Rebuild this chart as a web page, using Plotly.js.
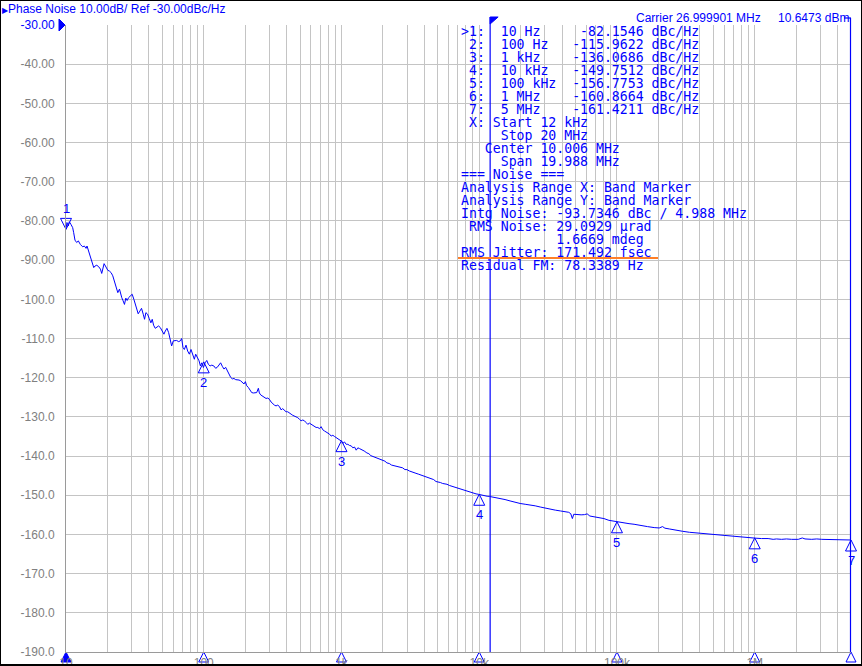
<!DOCTYPE html>
<html>
<head>
<meta charset="utf-8">
<script src="https://cdn.plot.ly/plotly-3.0.1.min.js"></script>
<style>
  html, body { margin: 0; padding: 0; background: #fff; }
  #wrap { position: relative; width: 862px; height: 666px; }
  #chart { width: 862px; height: 666px; }
  #frame { position: absolute; left: 0; top: 0; width: 862px; height: 666px; box-sizing: border-box; border: 1px solid #000; border-bottom-width: 2px; pointer-events: none; }
</style>
</head>
<body>
<div id="wrap"><div id="chart"></div><div id="frame"></div></div>
<script>
// ---------------- data ----------------
const freqHz = [
  10.0, 10.16, 10.39, 10.57, 10.87, 11.18, 11.37, 11.62, 11.95, 12.29, 12.71, 13.22, 13.60, 13.98, 14.21, 14.62,
  15.03, 15.46, 15.90, 16.25, 16.72, 17.29, 17.78, 18.17, 18.48, 18.90, 19.33, 20.11, 20.68, 21.26, 21.86, 22.48,
  23.12, 23.77, 24.45, 24.86, 25.42, 25.99, 26.58, 27.18, 27.80, 28.43, 29.40, 30.23, 31.09, 31.79, 32.69, 33.43,
  34.38, 35.35, 36.36, 37.18, 38.02, 39.10, 40.20, 41.33, 42.27, 43.23, 44.45, 45.72, 47.01, 48.34, 50.00, 51.41,
  52.58, 54.07, 55.60, 57.17, 58.46, 60.12, 61.82, 63.57, 65.74, 67.60, 69.13, 70.69, 72.29, 74.34, 76.44, 78.61,
  80.83, 83.12, 85.47, 87.40, 89.92, 92.47, 94.56, 96.70, 99.44, 102.3, 105.2, 108.1, 111.2, 114.4, 118.3,
  122.0, 125.4, 129.7, 132.6, 136.4, 140.3, 144.2, 148.3, 152.5, 156.8, 161.2, 165.8, 170.5, 175.4, 180.3, 185.4,
  190.6, 196.0, 200.5, 205.0, 210.8, 216.8, 222.9, 229.2, 235.7, 242.3, 249.2, 253.4, 259.2, 268.0, 275.6, 283.4,
  291.4, 299.6, 308.1, 316.8, 325.8, 334.9, 344.4, 354.1, 364.1, 374.5, 385.0, 395.9, 407.1, 418.7, 430.5, 442.7,
  455.2, 468.1, 481.3, 495.0, 509.0, 523.4, 538.2, 553.4, 569.0, 585.2, 601.7, 618.7, 636.2, 654.6, 673.1, 692.1,
  711.7, 731.8, 752.6, 773.9, 795.8, 818.3, 841.5, 865.3, 889.8, 915.0, 940.9, 967.6, 995.0, 1023, 1052, 1082,
  1113, 1144, 1177, 1210, 1244, 1279, 1315, 1353,
  1406, 1461, 1529, 1581, 1634, 1709, 1777, 1848, 1911, 1987, 2067, 2137, 2222, 2310, 2389, 2485,
  2583, 2671, 2777, 2888, 2987, 3105, 3229, 3339, 3472, 3610, 3734, 3883, 4037, 4175, 4341, 4513,
  4668, 4854, 5047, 5219, 5427, 5642, 5835, 6067, 6310, 6525, 6785, 7055, 7296, 7586, 7889, 8155,
  8482, 8820, 9120, 9484, 9860, 10197, 10605, 11025, 11402, 11857, 12330, 12750, 13260, 13785,
  14154, 15393, 16744, 18210, 19812, 21547, 23436, 25490, 27724, 30151, 32796, 35669, 38797, 42199, 44623, 46150,
  47460, 48540, 51340, 54920, 58070, 60740, 63520, 67940, 73900, 80370, 87410, 95080, 103420, 112490, 122350, 133070,
  148850, 166480, 186250, 202570, 214250, 222800, 239700, 268100, 299900, 335400, 375100, 419700, 469400, 510600, 555300, 604000,
  675500, 755400, 845300, 919300, 1011000, 1119000, 1251000, 1361000, 1439000, 1565000, 1702000, 1851000, 2071000, 2215000, 2317000, 2592000,
  2819000, 3066000, 3430000, 3837000, 4292000, 4801000, 5000000
];
const phaseNoiseDbcHz = [
  -82.1, -80.4, -81.3, -80.2, -80.9, -81.7, -83.0, -84.9, -85.5, -85.1, -86.0, -86.6, -86.4, -87.0, -86.4, -87.7,
  -89.4, -90.6, -91.9, -91.5, -91.3, -91.7, -92.3, -93.4, -91.9, -90.9, -91.5, -92.6, -92.8, -93.2, -94.0, -95.3,
  -96.6, -98.3, -97.4, -98.7, -99.6, -100.4, -101.3, -99.7, -100.3, -99.6, -99.0, -98.7, -100.0, -101.3, -102.6, -103.7,
  -103.0, -102.3, -103.8, -105.1, -103.4, -103.8, -104.9, -106.0, -105.1, -106.6, -107.4, -107.1, -106.8, -107.2, -108.1, -108.9,
  -108.1, -107.4, -108.5, -110.2, -111.9, -110.6, -110.5, -110.5, -110.8, -110.6, -110.0, -112.3, -112.8, -111.7, -113.2, -114.0,
  -112.8, -114.2, -115.3, -114.0, -114.9, -115.7, -117.0, -116.2, -117.4, -116.2, -115.6, -116.6, -117.0, -116.8, -117.0,
  -117.6, -117.35, -116.75, -116.2, -117.1, -117.8, -117.35, -118.2, -119.05, -119.9, -120.3, -120.2, -120.5, -120.5, -120.6, -120.8,
  -121.2, -121.6, -121.0, -122.05, -122.5, -123.2, -123.8, -123.9, -123.9, -123.8, -122.7, -123.9, -124.4, -124.8, -125.0, -125.3,
  -125.2, -125.5, -126.2, -126.75, -127.0, -127.2, -127.0, -127.35, -128.2, -127.9, -128.2, -128.7, -128.7, -129.1, -129.3, -129.6,
  -129.75, -130.0, -130.2, -130.6, -131.0, -130.8, -131.0, -131.45, -131.9, -131.6, -131.9, -132.3, -132.5, -132.7, -132.7, -133.0,
  -132.5, -133.3, -133.6, -133.85, -134.2, -134.4, -134.9, -134.7, -135.0, -135.3, -135.7, -135.9, -136.15, -136.75, -136.4, -137.0,
  -137.0, -137.3, -137.4, -137.9, -137.7, -138.5, -137.9, -138.1,
  -138.35, -138.7, -139.2, -139.4, -139.9, -140.2, -140.4, -140.65, -140.8, -141.1, -141.3, -141.75, -141.9, -142.3, -142.4, -142.6,
  -142.6, -142.85, -143.0, -143.45, -143.45, -143.8, -143.95, -144.1, -144.4, -144.6, -144.8, -145.05, -145.3, -145.5, -145.55, -145.8,
  -146.0, -146.5, -146.6, -146.75, -147.0, -147.1, -147.2, -147.5, -147.7, -147.9, -148.05, -148.2, -148.4, -148.55, -148.7, -148.9,
  -149.1, -149.3, -149.5, -149.65, -149.75, -149.9, -150.0, -150.1, -150.25, -150.3, -150.4, -150.5, -150.7, -150.75,
  -150.85, -151.1, -151.45, -151.8, -152.1, -152.3, -152.45, -152.7, -153.0, -153.3, -153.6, -153.8, -154.0, -154.2, -154.35, -154.7,
  -155.95, -154.85, -154.95, -155.0, -154.95, -154.75, -155.3, -155.45, -155.7, -155.95, -156.4, -156.65, -156.9, -157.05, -157.25, -157.4,
  -157.75, -158.0, -158.25, -158.35, -158.0, -158.4, -158.6, -158.95, -159.2, -159.45, -159.6, -159.8, -159.95, -160.05, -160.3, -160.4,
  -160.55, -160.65, -160.7, -160.8, -160.95, -161.05, -161.05, -161.25, -161.15, -161.25, -161.15, -161.25, -161.25, -160.9, -161.15, -161.25,
  -161.15, -161.25, -161.25, -161.3, -161.3, -161.4, -161.42
];

const markerNames = ['1', '2', '3', '4', '5', '6', '7'];
const markerFreqs = [10, 100, 1000, 10000, 100000, 1000000, 5000000];
const markerFreqLabels = ['10 Hz', '100 Hz', '1 kHz', '10 kHz', '100 kHz', '1 MHz', '5 MHz'];
const markerVals = [-82.1546, -115.9622, -136.0686, -149.7512, -156.7753, -160.8664, -161.4211];

const bandStart = 12000;      // Hz
const bandStop = 20000000;    // Hz

const xMin = 10, xMax = 5000000;
const yMin = -190, yMax = -30;
const xDecades = [10, 100, 1000, 10000, 100000, 1000000];
const xTickLabels = ['10', '100', '1k', '10k', '100k', '1M'];
const yTickVals = [-30, -40, -50, -60, -70, -80, -90, -100, -110, -120, -130, -140, -150, -160, -170, -180, -190];
const yTickLabels = ['-30.00', '-40.00', '-50.00', '-60.00', '-70.00', '-80.00', '-90.00', '-100.0', '-110.0',
  '-120.0', '-130.0', '-140.0', '-150.0', '-160.0', '-170.0', '-180.0', '-190.0'];

const titleText = 'Phase Noise 10.00dB/ Ref -30.00dBc/Hz';
const carrierText = 'Carrier 26.999901 MHz';
const carrierPowerText = '10.6473 dBm';
const readoutTail = [
  ' X: Start 12 kHz',
  '     Stop 20 MHz',
  '   Center 10.006 MHz',
  '     Span 19.988 MHz',
  '=== Noise ===',
  'Analysis Range X: Band Marker',
  'Analysis Range Y: Band Marker',
  'Intg Noise: -93.7346 dBc / 4.988 MHz',
  ' RMS Noise: 29.0929 µrad',
  '            1.6669 mdeg',
  'RMS Jitter: 171.492 fsec',
  'Residual FM: 78.3389 Hz'
];

// ---------------- layout helpers ----------------
const W = 862, H = 666, ML = 66, MR = 11, MT = 25, MB = 14;
const PW = W - ML - MR, PH = H - MT - MB;
const px2x = px => (px - ML) / PW;
const py2y = py => (MT + PH - py) / PH;
const BLUE = '#0000ff';
const GRID = '#c4c4c4';
const GRAY = '#808080';

// x ticks (every 1..9 x decade, labels on decades)
const xTickVals = [], xTickText = [];
xDecades.forEach((d, i) => {
  for (let m = 1; m <= 9; m++) {
    const v = m * d;
    if (v > xMax) break;
    xTickVals.push(v);
    xTickText.push(m === 1 ? xTickLabels[i] : '');
  }
});
xTickVals.push(xMax); xTickText.push('');

const yTickText = yTickLabels.map((t, i) => i === 0 ? '<span style="color:' + BLUE + '">' + t + '</span>' : t);

// readout text rows
const readout = markerNames.map((n, i) =>
  (i === 0 ? '>' : ' ') + n + ':  ' + markerFreqLabels[i].padEnd(9) +
  markerVals[i].toFixed(4).padStart(9) + ' dBc/Hz'
).concat(readoutTail);

const annotations = [];
readout.forEach((line, i) => {
  annotations.push({
    xref: 'paper', yref: 'paper', x: px2x(460), y: py2y(31.5 + 13 * i),
    xanchor: 'left', yanchor: 'middle', showarrow: false, borderpad: 0,
    text: line.replace(/ /g, '\u00a0'),
    font: { family: 'DejaVu Sans Mono, monospace', size: 13.2, color: BLUE }
  });
});
annotations.push({
  xref: 'paper', yref: 'paper', x: px2x(635), y: py2y(18), xanchor: 'left', yanchor: 'middle',
  showarrow: false, borderpad: 0, text: carrierText,
  font: { family: 'Liberation Sans, Arial, sans-serif', size: 12, color: BLUE }
});
annotations.push({
  xref: 'paper', yref: 'paper', x: px2x(777), y: py2y(18), xanchor: 'left', yanchor: 'middle',
  showarrow: false, borderpad: 0, text: carrierPowerText,
  font: { family: 'Liberation Sans, Arial, sans-serif', size: 12, color: BLUE }
});
// marker number labels
markerNames.forEach((n, i) => {
  const first = i === 0;
  annotations.push({
    xref: 'x', yref: 'y', x: Math.log10(markerFreqs[i]), y: markerVals[i],
    text: n, showarrow: false, borderpad: 0,
    xanchor: 'center', yanchor: first ? 'bottom' : 'top', yshift: first ? 12 : -12,
    font: { family: 'Liberation Sans, Arial, sans-serif', size: 13, color: BLUE }
  });
});

const stopOnScreen = bandStop > xMax;
const shapes = [
  // band start marker line
  { type: 'line', xref: 'x', yref: 'paper', x0: bandStart, x1: bandStart, y0: 0, y1: py2y(17),
    line: { color: BLUE, width: 1.2 } },
  // band start flag
  { type: 'path', xref: 'x', yref: 'paper', xsizemode: 'pixel', ysizemode: 'pixel',
    xanchor: bandStart, yanchor: py2y(17), path: 'M0,0 L8,0 L0,-7 Z',
    fillcolor: BLUE, line: { color: BLUE, width: 1 } },
  // band stop line (clipped to right edge when beyond span)
  stopOnScreen
    ? { type: 'line', xref: 'paper', yref: 'paper', x0: px2x(850.5), x1: px2x(850.5), y0: 0, y1: py2y(18),
        line: { color: BLUE, width: 1.2 } }
    : { type: 'line', xref: 'x', yref: 'paper', x0: bandStop, x1: bandStop, y0: 0, y1: py2y(18),
        line: { color: BLUE, width: 1.2 } },
  { type: 'line', xref: 'paper', yref: 'paper', x0: px2x(844), x1: px2x(851), y0: py2y(18), y1: py2y(18),
    line: { color: BLUE, width: 1.2 } },
  // reference level arrow
  { type: 'path', xref: 'paper', yref: 'paper', xsizemode: 'pixel', ysizemode: 'pixel',
    xanchor: 0, yanchor: (yMax - yMin) / (yMax - yMin), path: 'M-7,6 L-1,0 L-7,-6 Z',
    fillcolor: BLUE, line: { color: BLUE, width: 1 } },
  // orange highlight under RMS Jitter
  { type: 'line', xref: 'paper', yref: 'paper', x0: px2x(458), x1: px2x(658), y0: py2y(258), y1: py2y(258),
    line: { color: '#ff7f27', width: 2 } }
];

const traces = [
  { type: 'scatter', mode: 'lines', x: freqHz, y: phaseNoiseDbcHz,
    line: { color: BLUE, width: 1 }, hoverinfo: 'skip' },
  // marker triangles on trace
  { type: 'scatter', mode: 'markers', x: markerFreqs, y: markerVals, cliponaxis: false,
    marker: { symbol: markerFreqs.map((f, i) => i === 0 ? 'arrow-down-open' : 'arrow-up-open'),
              size: 11, color: BLUE, line: { color: BLUE, width: 1 } } },
  // marker stimulus indicators on the bottom axis
  { type: 'scatter', mode: 'markers', x: markerFreqs, y: markerFreqs.map(() => yMin), cliponaxis: false,
    marker: { symbol: markerFreqs.map((f, i) => i === 0 ? 'arrow-up' : 'arrow-up-open'),
              size: 10, color: BLUE, line: { color: BLUE, width: 1 } } }
];

const layout = {
  width: W, height: H,
  margin: { l: ML, r: MR, t: MT, b: MB, pad: 0 },
  paper_bgcolor: '#ffffff', plot_bgcolor: '#ffffff',
  showlegend: false,
  title: {
    text: '<span style="font-size:8px">▶</span>' + titleText,
    x: 2 / W, xanchor: 'left', xref: 'container',
    y: 1 - 8.5 / H, yanchor: 'middle', yref: 'container',
    font: { family: 'Liberation Sans, Arial, sans-serif', size: 12, color: BLUE }
  },
  xaxis: {
    type: 'log', range: [Math.log10(xMin), Math.log10(xMax)],
    tickmode: 'array', tickvals: xTickVals, ticktext: xTickText,
    showgrid: true, gridcolor: GRID, gridwidth: 1,
    showline: true, linecolor: '#9a9a9a', linewidth: 1,
    ticks: '', ticklabelstandoff: 0,
    tickfont: { family: 'Liberation Sans, Arial, sans-serif', size: 12, color: GRAY },
    zeroline: false, fixedrange: true
  },
  yaxis: {
    range: [yMin, yMax],
    tickmode: 'array', tickvals: yTickVals, ticktext: yTickText,
    showgrid: true, gridcolor: GRID, gridwidth: 1,
    showline: true, linecolor: '#9a9a9a', linewidth: 1,
    ticks: '', ticklabelstandoff: 8,
    tickfont: { family: 'Liberation Sans, Arial, sans-serif', size: 12, color: GRAY },
    zeroline: false, fixedrange: true
  },
  shapes: shapes,
  annotations: annotations
};

Plotly.newPlot('chart', traces, layout, { displayModeBar: false, staticPlot: true });
</script>
</body>
</html>
